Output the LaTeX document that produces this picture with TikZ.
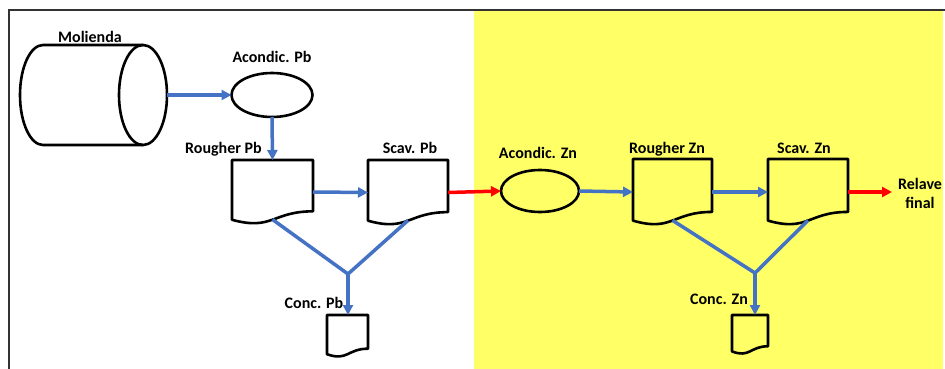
\documentclass[tikz,border=0pt]{standalone}
\usepackage{fontspec}
\setmainfont{Carlito}
\usetikzlibrary{shapes.geometric,arrows.meta,calc}
\definecolor{flowblue}{HTML}{4472C4}
\definecolor{flowred}{HTML}{FF0000}
\definecolor{zonebg}{HTML}{FFFF66}
\definecolor{framegray}{HTML}{333333}
\tikzset{
  outl/.style={draw=black,line width=2.6pt,line join=round},
  lbl/.style={font=\fontsize{16}{18}\selectfont\bfseries,inner sep=0pt,anchor=base},
  docbox/.style={shape=rectangle,inner sep=0pt,outer sep=0pt},
  ovalbox/.style={ellipse,outl,inner sep=0pt,outer sep=0pt},
  bluearrow/.style={draw=flowblue,line width=3.5pt,-{Triangle[length=10pt,width=10pt]}},
  blueline/.style={draw=flowblue,line width=3.5pt,line join=miter},
  redarrow/.style={draw=flowred,line width=3.5pt,-{Triangle[length=10pt,width=10pt]}}
}
\newcommand\docpath[1]{%
  \draw[outl] (#1.north west) -- (#1.north east)
    -- ($(#1.north east)!0.802!(#1.south east)$)
    .. controls ($(#1.north)!0.802!(#1.south)$) and ($(#1.north)!1.1075!(#1.south)$)
    .. ($(#1.north west)!0.934!(#1.south west)$) -- cycle;}
\begin{document}
\begin{tikzpicture}[x=1pt,y=-1pt]
\useasboundingbox (0,0) rectangle (945,369);
% yellow zone and frame
\fill[zonebg] (474,11) rectangle (943,369);
\draw[framegray,line width=2pt] (9,369) -- (9,10) -- (945,10);

% cylinder (Molienda)
\node[docbox,minimum width=147pt,minimum height=100pt] (mol) at (93.5,95) {};
\draw[outl] (143,45) -- (43,45)
  .. controls (30.3,45) and (20,67.4) .. (20,95)
  .. controls (20,122.6) and (30.3,145) .. (43,145) -- (143,145);
\draw[outl] (143,95) ellipse [x radius=24, y radius=50];
\node[lbl] (molL) at (90,43) {Molienda};

% ellipses
\node[ovalbox,minimum width=81pt,minimum height=44pt] (apb) at (272,95) {};
\node[lbl] (apbL) at (272,63) {Acondic. Pb};
\node[ovalbox,minimum width=78pt,minimum height=42pt] (azn) at (540,191) {};
\node[lbl] (aznL) at (538,158) {Acondic. Zn};

% documents
\node[docbox,minimum width=81pt,minimum height=64pt] (rpb) at (272.5,192) {};
\node[docbox,minimum width=80pt,minimum height=65pt] (spb) at (408,192.5) {};
\node[docbox,minimum width=41pt,minimum height=42pt] (cpb) at (347.5,336) {};
\node[docbox,minimum width=79pt,minimum height=66pt] (rzn) at (672.5,192) {};
\node[docbox,minimum width=80pt,minimum height=66pt] (szn) at (808,192) {};
\node[docbox,minimum width=36pt,minimum height=39pt] (czn) at (750,334.5) {};
\docpath{rpb}
\docpath{spb}
\docpath{cpb}
\docpath{rzn}
\docpath{szn}
\docpath{czn}

\node[lbl] (rpbL) at (223.5,153) {Rougher Pb};
\node[lbl] (spbL) at (410,153) {Scav. Pb};
\node[lbl] (cpbL) at (314,308) {Conc. Pb};
\node[lbl] (rznL) at (667,153) {Rougher Zn};
\node[lbl] (sznL) at (804,153) {Scav. Zn};
\node[lbl] (cznL) at (719,304) {Conc. Zn};
\node[font=\fontsize{16}{19}\selectfont\bfseries,align=center,inner sep=0pt] (relL) at (920,193) {Relave\\final};

% junctions and free ends
\coordinate (jpb) at (348,274);
\coordinate (jzn) at (755,273);
\coordinate (relend) at (892,192);

% connectors
\draw[bluearrow] (mol.east) -- (apb.west);
\draw[bluearrow] (apb.south) -- (rpb.north);
\draw[bluearrow] (rpb.east) -- (spb.west);
\draw[redarrow] (spb.east) -- (azn.west);
\draw[bluearrow] (azn.east) -- (rzn.west);
\draw[bluearrow] (rzn.east) -- (szn.west);
\draw[redarrow] (szn.east) -- (relend);

\draw[blueline] ($(rpb.north)!0.93!(rpb.south)$) -- (jpb) -- ($(spb.north)!0.93!(spb.south)$);
\draw[bluearrow] (jpb) -- (jpb |- cpb.north);
\draw[blueline] ($(rzn.north)!0.93!(rzn.south)$) -- (jzn) -- ($(szn.north)!0.93!(szn.south)$);
\draw[bluearrow] (jzn) -- (jzn |- czn.north);
\end{tikzpicture}
\end{document}
